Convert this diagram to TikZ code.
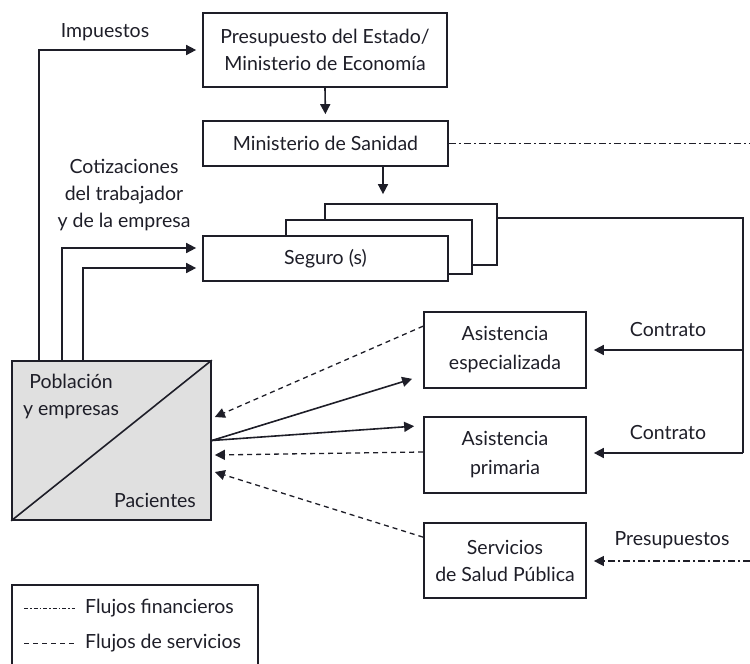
\documentclass[tikz,border=0pt]{standalone}
\usepackage{fontspec}
\setmainfont{Lato}
\usetikzlibrary{arrows.meta,calc}
\definecolor{ink}{HTML}{1E1E28}
\definecolor{boxfill}{HTML}{E0E0E0}
\begin{document}
\begin{tikzpicture}[x=1pt,y=-1pt,
  every node/.style={font=\fontsize{19.5}{27}\selectfont,text=ink},
  box/.style={draw=ink,line width=1.7pt,fill=white,inner sep=0pt},
  arr/.style={draw=ink,line width=1.6pt,-{Triangle[length=10pt,width=10pt]}},
  sol/.style={draw=ink,line width=1.6pt},
  svc/.style={draw=ink,line width=1.3pt,dash pattern=on 5pt off 4pt},
  fin/.style={draw=ink,line width=1.3pt,dash pattern=on 7pt off 3pt on 2pt off 3pt},
  lbl/.style={align=center,inner sep=0pt}]
\useasboundingbox (0,0) rectangle (750,664);
% boxes
\node[box,minimum width=244pt,minimum height=74pt,align=center] (pres) at (325,50) {Presupuesto del Estado/\\Ministerio de Economía};
\node[box,minimum width=245pt,minimum height=45pt] (san) at (325.5,143.5) {Ministerio de Sanidad};
\node[box,minimum width=172pt,minimum height=61pt] (seg3) at (411,234.5) {};
\node[box,minimum width=186pt,minimum height=54pt] (seg2) at (379,247) {};
\node[box,minimum width=245pt,minimum height=45pt] (seg) at (325.5,258.5) {Seguro (s)};
\node[box,minimum width=162pt,minimum height=76pt,align=center,font=\fontsize{19.5}{29}\selectfont] (esp) at (505,350) {Asistencia\\especializada};
\node[box,minimum width=162pt,minimum height=76pt,align=center,font=\fontsize{19.5}{29}\selectfont] (prim) at (505,455) {Asistencia\\primaria};
\node[box,minimum width=162pt,minimum height=75pt,align=center] (serv) at (505,560.5) {Servicios\\de Salud Pública};
\node[box,fill=boxfill,minimum width=199pt,minimum height=159pt] (pob) at (111.5,440.5) {};
\draw[sol] (pob.south west) -- (pob.north east);
\node[lbl] (pobt) at (71,396) {Población\\y empresas};
\node[lbl] (pac) at (155,500) {Pacientes};
% coordinates on the right edge
\coordinate (re1) at (750,143.5);
\coordinate (re2) at (750,561);
\coordinate (rv) at (743,218);
% top flows
\draw[arr,shorten >=6pt] (pres.south) -- (san.north);
\draw[arr,shorten >=9pt] (san.south -| 383,0) -- (seg3.north -| 383,0);
\draw[fin] (san.east) -- (re1);
% taxes and contributions
\draw[arr,shorten >=6pt] ($(pob.north west)+(28,0)$) |- (pres.west);
\draw[arr,shorten >=6pt] ($(pob.north west)+(51,0)$) |- ($(seg.west)+(0,-10.5)$);
\draw[arr,shorten >=6pt] ($(pob.north west)+(72,0)$) |- ($(seg.west)+(0,9.5)$);
\node[lbl] (imp) at (105,32) {Impuestos};
\node[lbl] (cot) at (124,195) {Cotizaciones\\del trabajador\\y de la empresa};
% contracts
\draw[sol] (seg3.east |- rv) -- (rv) -- (743,453);
\draw[arr,shorten >=7pt] (743,350) -- (esp.east);
\draw[arr,shorten >=7pt] (743,453) |- ($(prim.east)+(0,-2)$);
\node[lbl] (c1) at (668,330) {Contrato};
\node[lbl] (c2) at (668,433) {Contrato};
% budgets to public health
\draw[fin,-{Triangle[length=10pt,width=10pt]},shorten >=7pt] (re2) -- ($(serv.east)+(0,0.5)$);
\node[lbl] (pre) at (672,540) {Presupuestos};
% patient flows
\draw[arr] (pob.east) -- ($(esp.south west)+(-11,-10)$);
\draw[arr] (pob.east) -- ($(prim.north west)+(-9,10)$);
\draw[svc,-{Triangle[length=10pt,width=10pt]}] ($(esp.north west)+(0,15)$) -- ($(pob.east)+(3,-23.5)$);
\draw[svc,-{Triangle[length=10pt,width=10pt]}] ($(prim.west)+(0,-3)$) -- ($(pob.east)+(3,14.5)$);
\draw[svc,-{Triangle[length=10pt,width=10pt]}] ($(serv.north west)+(0,15)$) -- ($(pob.east)+(3,31.5)$);
% legend
\draw[draw=ink,line width=1.7pt] (12,670) -- (12,585) -- (258,585) -- (258,670);
\coordinate (lf1) at (24,608);
\coordinate (lf2) at (75,608);
\coordinate (ls1) at (24,643);
\coordinate (ls2) at (75,643);
\draw[fin,line width=1pt,dash pattern=on 4pt off 2pt on 1.5pt off 2pt] (lf1) -- (lf2);
\draw[svc,line width=1pt] (ls1) -- (ls2);
\node[lbl,anchor=west] (lt1) at (85,608) {Flujos financieros};
\node[lbl,anchor=west] (lt2) at (85,643) {Flujos de servicios};
\end{tikzpicture}
\end{document}
